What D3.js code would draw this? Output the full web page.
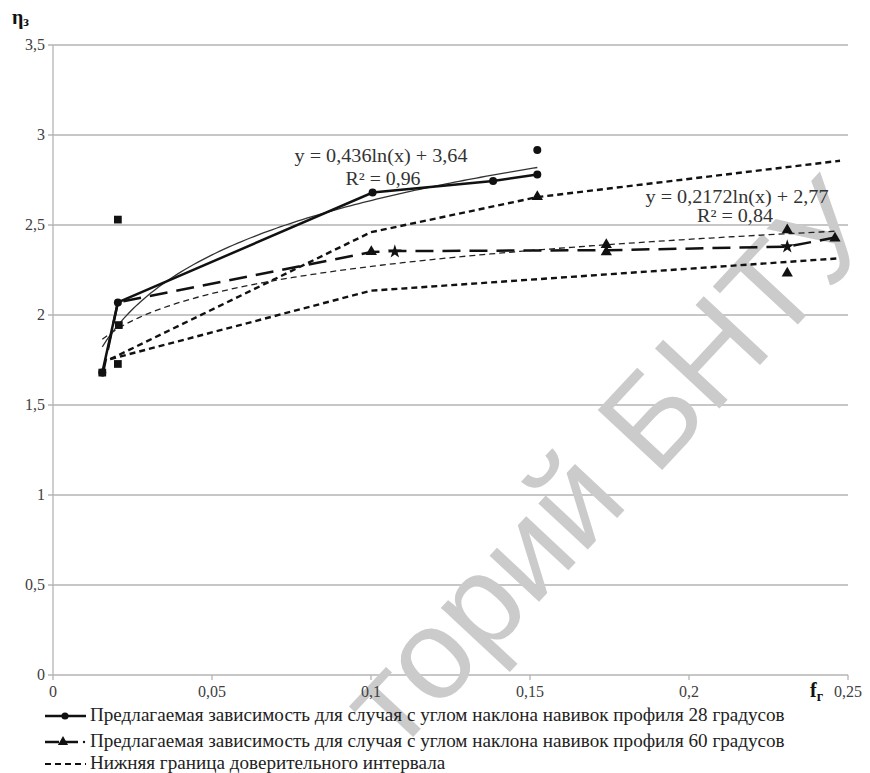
<!DOCTYPE html>
<html><head><meta charset="utf-8">
<script src="https://cdn.jsdelivr.net/npm/d3@7"></script>
<style>body{margin:0;background:#fff}svg{display:block}
.sf{font-family:"Liberation Serif","Times New Roman","DejaVu Serif",serif}</style>
</head><body>
<svg id="c" width="870" height="773"></svg>
<script>
// ---- data ----
const xTicks = [0, 0.05, 0.1, 0.15, 0.2, 0.25];
const xTickLabels = ["0", "0,05", "0,1", "0,15", "0,2", "0,25"];
const yTicks = [0, 0.5, 1, 1.5, 2, 2.5, 3, 3.5];
const yTickLabels = ["0", "0,5", "1", "1,5", "2", "2,5", "3", "3,5"];

// series 28 deg (solid line, circles)
const fr28 = [0.0155, 0.0204, 0.1005, 0.1384, 0.1523];
const eta28 = [1.68, 2.07, 2.68, 2.745, 2.78];
// series 60 deg (long dash, stars)
const fr60 = [0.0155, 0.0204, 0.1001, 0.1075, 0.174, 0.2309, 0.2459];
const eta60 = [1.66, 2.07, 2.35, 2.355, 2.36, 2.38, 2.43];
// lower confidence bound
const frLow = [0.018, 0.1, 0.2465];
const etaLow = [1.755, 2.135, 2.314];
// upper confidence bound
const frUp = [0.018, 0.1, 0.1523, 0.2475];
const etaUp = [1.755, 2.46, 2.655, 2.857];
// extra measured markers
const sqX = [0.0155, 0.0204, 0.0204, 0.0207];
const sqY = [1.68, 1.728, 2.53, 1.944];
const ciX = [0.1523];
const ciY = [2.917];
const trX = [0.1523, 0.1001, 0.174, 0.174, 0.2309, 0.2309, 0.2459];
const trY = [2.657, 2.352, 2.39, 2.35, 2.472, 2.232, 2.426];
const stX = [0.1075, 0.2309];
const stY = [2.352, 2.38];
// trend lines: y = a ln(x) + b
const trendA = [0.436, 3.64], trendARange = [0.0155, 0.1523];
const trendB = [0.2172, 2.77], trendBRange = [0.0155, 0.2459];
const eqA = ["y = 0,436ln(x) + 3,64", "R² = 0,96"];
const eqB = ["y = 0,2172ln(x) + 2,77", "R² = 0,84"];
const legendLabels = [
  "Предлагаемая зависимость для случая с углом наклона навивок профиля 28 градусов",
  "Предлагаемая зависимость для случая с углом наклона навивок профиля 60 градусов",
  "Нижняя граница доверительного интервала"
];

// ---- drawing ----
const svg = d3.select("#c");
const x = d3.scaleLinear().domain([0, 0.25]).range([53, 848]);
const y = d3.scaleLinear().domain([0, 3.5]).range([675, 45]);
const gridCol = "#b4b4b4";

// grid
svg.append("g").selectAll("line").data(yTicks).join("line")
  .attr("x1", x(0) - 5).attr("x2", x(0.25)).attr("y1", d => y(d)).attr("y2", d => y(d))
  .attr("stroke", gridCol).attr("stroke-width", 1.3);
svg.append("line").attr("x1", x(0)).attr("x2", x(0)).attr("y1", y(0)).attr("y2", y(3.5))
  .attr("stroke", gridCol).attr("stroke-width", 1.3);
svg.append("g").selectAll("line").data(xTicks).join("line")
  .attr("x1", d => x(d)).attr("x2", d => x(d)).attr("y1", y(0)).attr("y2", y(0) + 5)
  .attr("stroke", gridCol).attr("stroke-width", 1.3);

// watermark (visible part), under labels and data
svg.append("text").attr("transform", "translate(884,232) rotate(-47)")
  .attr("text-anchor", "end").attr("font-family", "'Liberation Sans',Arial,sans-serif")
  .attr("font-size", 128).attr("fill", "#cbcbcb")
  .text("торий БНТУ");

// tick labels
svg.append("g").selectAll("text").data(yTicks).join("text").attr("class", "sf")
  .attr("x", x(0) - 8).attr("y", d => y(d) + 5).attr("text-anchor", "end")
  .attr("font-size", 16).attr("fill", "#404040")
  .text((d, i) => yTickLabels[i]);
svg.append("g").selectAll("text").data(xTicks).join("text").attr("class", "sf")
  .attr("x", d => x(d)).attr("y", y(0) + 22).attr("text-anchor", "middle")
  .attr("font-size", 16).attr("fill", "#404040")
  .text((d, i) => xTickLabels[i]);

// axis titles
const t1 = svg.append("text").attr("class", "sf").attr("x", 12).attr("y", 24)
  .attr("font-weight", "bold").attr("font-size", 20).attr("fill", "#111");
t1.append("tspan").text("η");
t1.append("tspan").attr("font-size", 14).attr("dy", 2).text("з");
const t2 = svg.append("text").attr("class", "sf").attr("x", 810).attr("y", 697)
  .attr("font-weight", "bold").attr("font-size", 20).attr("fill", "#111");
t2.append("tspan").text("f");
t2.append("tspan").attr("font-size", 14).attr("dy", 4).text("г");

const line = d3.line().x(d => x(d[0])).y(d => y(d[1]));
const zip = (a, b) => a.map((v, i) => [v, b[i]]);
function trend(c, r) {
  return d3.range(0, 101).map(k => {
    const xv = r[0] + (r[1] - r[0]) * k / 100;
    return [xv, c[0] * Math.log(xv) + c[1]];
  });
}

// bounds
svg.append("path").attr("d", line(zip(frUp, etaUp))).attr("fill", "none")
  .attr("stroke", "#111").attr("stroke-width", 2.4).attr("stroke-dasharray", "6,4");
svg.append("path").attr("d", line(zip(frLow, etaLow))).attr("fill", "none")
  .attr("stroke", "#111").attr("stroke-width", 2.4).attr("stroke-dasharray", "6,4");
// trend B
svg.append("path").attr("d", line(trend(trendB, trendBRange))).attr("fill", "none")
  .attr("stroke", "#222").attr("stroke-width", 1.3).attr("stroke-dasharray", "6,4");
// series 60
svg.append("path").attr("d", line(zip(fr60, eta60))).attr("fill", "none")
  .attr("stroke", "#111").attr("stroke-width", 2.5).attr("stroke-dasharray", "18,9");
// trend A
svg.append("path").attr("d", line(trend(trendA, trendARange))).attr("fill", "none")
  .attr("stroke", "#333").attr("stroke-width", 1.3);
// series 28
svg.append("path").attr("d", line(zip(fr28, eta28))).attr("fill", "none")
  .attr("stroke", "#111").attr("stroke-width", 2.5);

// markers
const sym = (type, size) => d3.symbol().type(type).size(size)();
function markers(xs, ys, type, size) {
  svg.append("g").selectAll("path").data(zip(xs, ys)).join("path")
    .attr("transform", d => `translate(${x(d[0])},${y(d[1])})`)
    .attr("d", sym(type, size)).attr("fill", "#111");
}
markers(fr28, eta28, d3.symbolCircle, 50);
markers(ciX, ciY, d3.symbolCircle, 50);
markers(sqX, sqY, d3.symbolSquare, 60);
markers(trX, trY, d3.symbolTriangle, 55);
markers(stX, stY, d3.symbolStar, 60);

// equations
function eq(lines, cx, yb, w) {
  lines.forEach((s, i) => svg.append("text").attr("class", "sf").attr("x", cx[i]).attr("y", yb[i])
    .attr("text-anchor", "middle").attr("font-size", 18)
    .attr("textLength", w[i]).attr("lengthAdjust", "spacingAndGlyphs")
    .attr("fill", "#333").text(s));
}
eq(eqA, [381, 383], [162, 185], [173, 75]);
eq(eqB, [737, 735], [203, 222], [183, 76]);

// legend: font size chosen so that the first line spans the reference width
const ly = [716, 742, 764];
const probe = svg.append("text").attr("class", "sf").attr("font-size", 16).text(legendLabels[0]);
const fs = 16 * 695 / probe.node().getComputedTextLength();
probe.remove();
legendLabels.forEach((s, i) => {
  svg.append("text").attr("class", "sf").attr("x", 90).attr("y", ly[i] + 5)
    .attr("font-size", fs).attr("fill", "#222").text(s);
});
svg.append("line").attr("x1", 45).attr("x2", 86).attr("y1", ly[0]).attr("y2", ly[0])
  .attr("stroke", "#111").attr("stroke-width", 2.5);
svg.append("path").attr("transform", `translate(65,${ly[0]})`).attr("d", sym(d3.symbolCircle, 40)).attr("fill", "#111");
svg.append("line").attr("x1", 45).attr("x2", 78).attr("y1", ly[1]).attr("y2", ly[1])
  .attr("stroke", "#111").attr("stroke-width", 2.5).attr("stroke-dasharray", "14,6");
svg.append("path").attr("transform", `translate(63,${ly[1]})`).attr("d", sym(d3.symbolTriangle, 45)).attr("fill", "#111");
svg.append("circle").attr("cx", 84).attr("cy", ly[1]).attr("r", 1.2).attr("fill", "#111");
svg.append("line").attr("x1", 45).attr("x2", 86).attr("y1", ly[2]).attr("y2", ly[2])
  .attr("stroke", "#111").attr("stroke-width", 2.2).attr("stroke-dasharray", "6,4");
</script>
</body></html>
